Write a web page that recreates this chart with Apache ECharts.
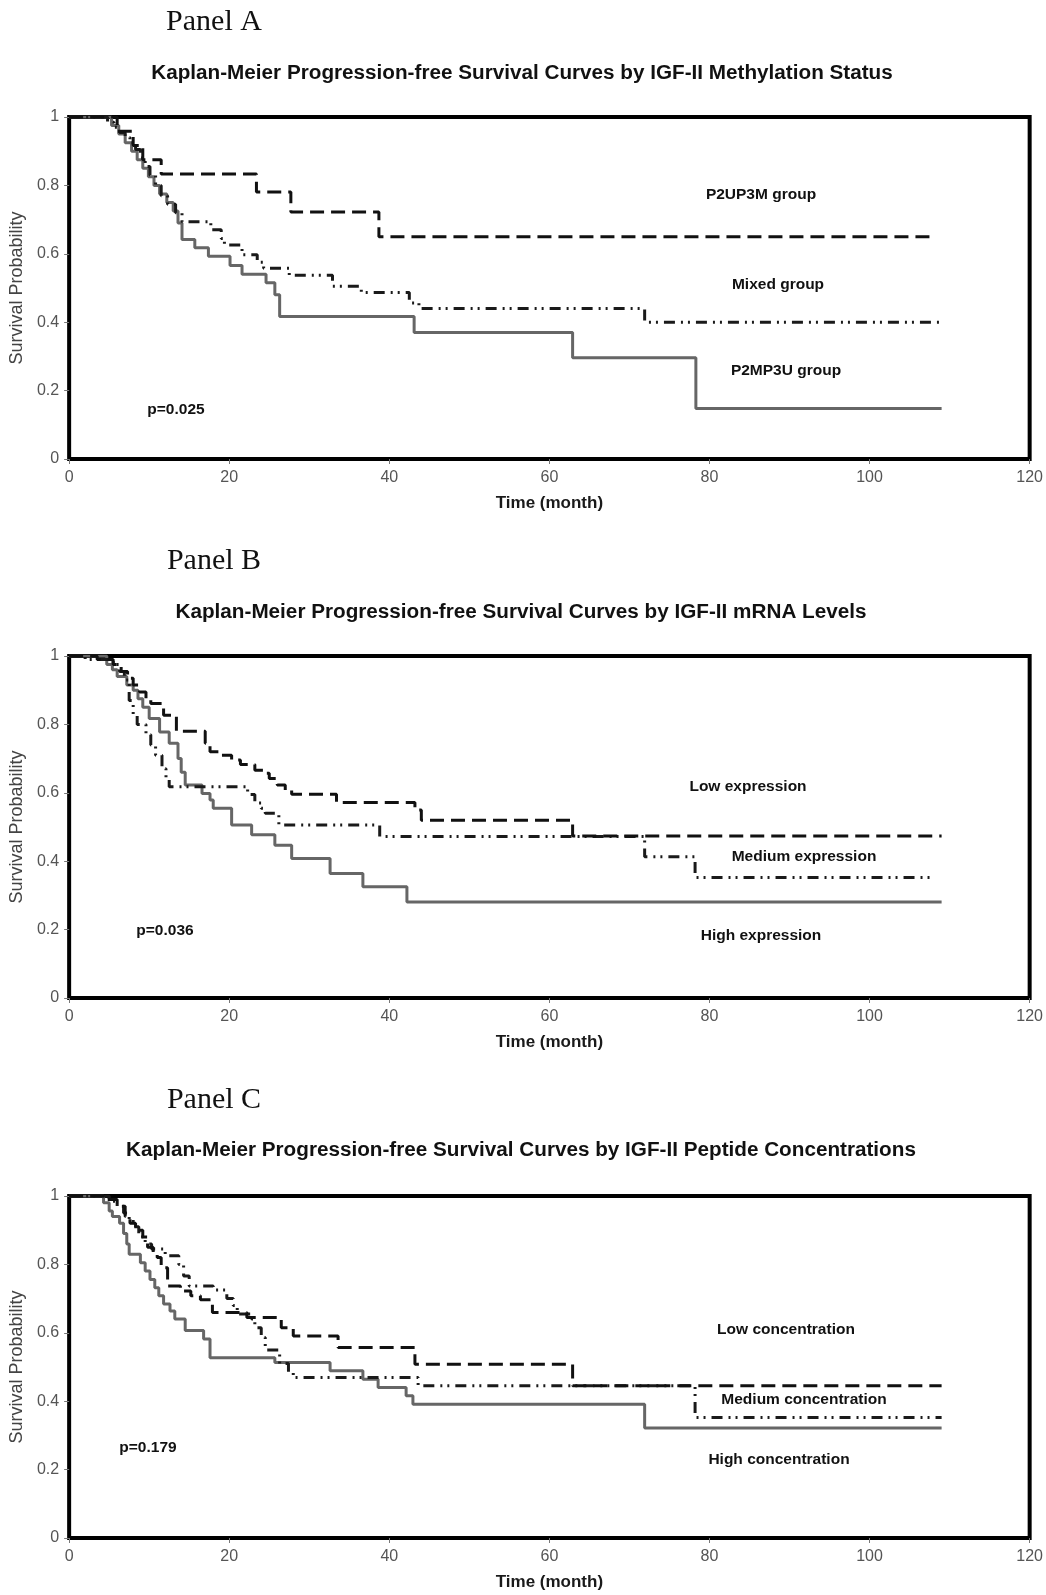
<!DOCTYPE html>
<html>
<head>
<meta charset="utf-8">
<title>Kaplan-Meier PFS curves</title>
<script src="https://cdn.jsdelivr.net/npm/echarts@6/dist/echarts.min.js"></script>
<style>
html,body{margin:0;padding:0;background:#fff;}
#main{width:1046px;height:1595px;}
</style>
</head>
<body>
<div id="main"></div>
<script>
// axis ticks
var xTicks = [0, 20, 40, 60, 80, 100, 120];
var yTicks = [0, 0.2, 0.4, 0.6, 0.8, 1];

// Panel A - methylation status
var aUpMT = [0, 6.0, 8.0, 9.2, 11.5, 23.4, 27.7, 38.7, 108.3];
var aUpMS = [1, 0.958, 0.917, 0.875, 0.833, 0.781, 0.722, 0.65, 0.65];
var aMixT = [0, 4.8, 5.6, 6.3, 7.0, 7.6, 8.3, 8.9, 9.5, 10.1, 10.8, 11.5, 12.3, 13.3, 14.1, 17.7, 19.0, 19.4, 21.6, 23.5, 24.3, 27.5, 32.9, 36.5, 42.5, 43.7, 71.9, 109];
var aMixS = [1, 0.985, 0.97, 0.955, 0.94, 0.925, 0.905, 0.88, 0.855, 0.83, 0.8, 0.77, 0.745, 0.72, 0.694, 0.67, 0.645, 0.626, 0.597, 0.575, 0.558, 0.537, 0.505, 0.487, 0.456, 0.44, 0.4, 0.4];
var aMpUT = [0, 5.3, 6.2, 7.0, 7.8, 8.5, 9.2, 9.9, 10.6, 11.3, 12.2, 13.0, 13.6, 14.1, 15.7, 17.4, 20.1, 21.6, 24.6, 25.7, 26.3, 43.1, 62.9, 78.3, 109];
var aMpUS = [1, 0.975, 0.95, 0.925, 0.9, 0.875, 0.85, 0.825, 0.8, 0.775, 0.75, 0.725, 0.69, 0.642, 0.618, 0.593, 0.566, 0.54, 0.515, 0.48, 0.417, 0.37, 0.296, 0.148, 0.148];

// Panel B - mRNA levels
var bLowT = [0, 3.5, 5.5, 6.5, 7.3, 8.0, 8.8, 9.6, 10.2, 11.8, 13.4, 17.0, 17.6, 19.0, 20.3, 21.4, 23.2, 24.3, 25.0, 26.0, 27.0, 27.8, 33.4, 43.2, 44.0, 62.9, 109];
var bLowS = [1, 0.99, 0.975, 0.955, 0.935, 0.915, 0.895, 0.875, 0.861, 0.827, 0.78, 0.745, 0.72, 0.71, 0.696, 0.683, 0.666, 0.657, 0.642, 0.623, 0.608, 0.596, 0.572, 0.55, 0.52, 0.474, 0.474];
var bMedT = [0, 2, 5.5, 6.3, 6.9, 7.5, 8.0, 8.5, 9.6, 10.2, 10.8, 11.6, 12.1, 12.5, 22.3, 23.2, 24.0, 24.5, 26.2, 38.8, 71.9, 78.2, 108];
var bMedS = [1, 0.99, 0.975, 0.955, 0.93, 0.87, 0.83, 0.8, 0.77, 0.74, 0.71, 0.67, 0.64, 0.618, 0.595, 0.57, 0.555, 0.54, 0.506, 0.472, 0.413, 0.352, 0.352];
var bHighT = [0, 4.7, 5.4, 6.0, 7.2, 8.0, 8.6, 9.2, 10.0, 11.3, 12.5, 13.6, 14.0, 14.5, 16.6, 17.6, 18.0, 20.3, 22.8, 25.7, 27.8, 32.6, 36.7, 42.2, 109];
var bHighS = [1, 0.975, 0.96, 0.94, 0.915, 0.9, 0.875, 0.85, 0.817, 0.778, 0.745, 0.7, 0.66, 0.623, 0.598, 0.579, 0.555, 0.506, 0.477, 0.447, 0.408, 0.364, 0.325, 0.281, 0.281];

// Panel C - peptide concentrations
var cLowT = [0, 4.5, 6.0, 7.0, 7.6, 8.3, 9.2, 9.8, 10.5, 11.0, 11.5, 12.3, 13.9, 15.2, 16.4, 17.9, 22.2, 26.5, 28.0, 33.6, 43.2, 62.9, 109];
var cLowS = [1, 0.99, 0.97, 0.94, 0.92, 0.9, 0.88, 0.85, 0.834, 0.82, 0.79, 0.737, 0.722, 0.708, 0.697, 0.659, 0.645, 0.615, 0.591, 0.557, 0.508, 0.445, 0.445];
var cMedT = [0, 5, 6, 6.8, 7.5, 8, 8.7, 9.5, 10.3, 12.0, 13.7, 14.3, 15.0, 18.0, 19.7, 20.5, 21.0, 22.8, 23.2, 24.0, 24.5, 26.3, 27.4, 28.0, 43.6, 78.2, 109];
var cMedS = [1, 0.985, 0.97, 0.95, 0.93, 0.91, 0.88, 0.86, 0.845, 0.825, 0.8, 0.766, 0.737, 0.725, 0.7, 0.68, 0.655, 0.64, 0.615, 0.586, 0.55, 0.51, 0.485, 0.469, 0.445, 0.352, 0.352];
var cHighT = [0, 4.3, 5.0, 5.4, 6.3, 6.8, 7.2, 7.5, 8.9, 9.5, 10.1, 10.7, 11.2, 11.8, 12.6, 13.2, 14.5, 16.8, 17.6, 25.7, 32.6, 36.7, 38.6, 42.1, 42.95, 71.9, 109];
var cHighS = [1, 0.98, 0.956, 0.94, 0.92, 0.89, 0.86, 0.83, 0.805, 0.781, 0.756, 0.732, 0.708, 0.684, 0.664, 0.64, 0.607, 0.582, 0.527, 0.513, 0.489, 0.464, 0.44, 0.416, 0.391, 0.322, 0.322];

var sansFont = '"Liberation Sans", Arial, sans-serif';
var serifFont = '"Liberation Serif", "Times New Roman", serif';

var gridTops = [117, 656, 1196];
var dashLine = {color: '#111', width: 3, type: [14, 7], cap: 'butt'};
var dotDashLine = {color: '#1a1a1a', width: 3, type: [11, 6, 2, 5, 2, 6], cap: 'butt'};
var solidLine = {color: '#666', width: 3, type: 'solid'};

function kmPoints(t, s) {
    var d = [];
    for (var i = 0; i < t.length; i++) {
        d.push([t[i], s[i]]);
    }
    return d;
}

function kmSeries(name, idx, t, s, style, z) {
    return {
        name: name,
        type: 'line',
        step: 'end',
        xAxisIndex: idx,
        yAxisIndex: idx,
        showSymbol: false,
        symbol: 'none',
        silent: true,
        z: z,
        lineStyle: style,
        data: kmPoints(t, s)
    };
}

function txt(str, x, y, font, color) {
    return {
        type: 'text',
        x: x,
        y: y,
        style: {
            text: str,
            font: font,
            fill: color || '#111',
            textAlign: 'center',
            textVerticalAlign: 'middle',
            align: 'center',
            verticalAlign: 'middle'
        }
    };
}

var grids = [], xAxes = [], yAxes = [];
for (var g = 0; g < 3; g++) {
    grids.push({
        left: 68, top: gridTops[g], width: 962, height: 342,
        show: true, borderColor: '#000', borderWidth: 4, backgroundColor: 'transparent'
    });
    xAxes.push({
        gridIndex: g, type: 'value', min: xTicks[0], max: xTicks[xTicks.length - 1], interval: 20,
        name: 'Time (month)', nameLocation: 'middle', nameGap: 36,
        nameTextStyle: {fontFamily: sansFont, fontSize: 17, fontWeight: 'bold', color: '#1a1a1a'},
        axisLine: {show: false},
        axisTick: {show: true, length: 5, lineStyle: {color: '#777', width: 1}},
        axisLabel: {margin: 11, fontFamily: sansFont, fontSize: 16, color: '#555'},
        splitLine: {show: false}
    });
    yAxes.push({
        gridIndex: g, type: 'value', min: yTicks[0], max: yTicks[yTicks.length - 1], interval: 0.2,
        name: 'Survival Probability', nameLocation: 'middle', nameGap: 41,
        nameTextStyle: {fontFamily: sansFont, fontSize: 18, color: '#444'},
        axisLine: {show: false},
        axisTick: {show: true, length: 5, lineStyle: {color: '#777', width: 1}},
        axisLabel: {margin: 10, fontFamily: sansFont, fontSize: 16, color: '#555'},
        splitLine: {show: false}
    });
}

var labelFont = 'bold 15.5px ' + sansFont;
var titleFont = 'bold 20.7px ' + sansFont;
var panelFont = '30px ' + serifFont;

var myChart = echarts.init(document.getElementById('main'), null, {renderer: 'canvas'});

option = {
    backgroundColor: '#fff',
    animation: false,
    grid: grids,
    xAxis: xAxes,
    yAxis: yAxes,
    series: [
        kmSeries('P2MP3U group', 0, aMpUT, aMpUS, solidLine, 2),
        kmSeries('Mixed group', 0, aMixT, aMixS, dotDashLine, 3),
        kmSeries('P2UP3M group', 0, aUpMT, aUpMS, dashLine, 4),
        kmSeries('High expression', 1, bHighT, bHighS, solidLine, 2),
        kmSeries('Medium expression', 1, bMedT, bMedS, dotDashLine, 3),
        kmSeries('Low expression', 1, bLowT, bLowS, dashLine, 4),
        kmSeries('High concentration', 2, cHighT, cHighS, solidLine, 2),
        kmSeries('Medium concentration', 2, cMedT, cMedS, dotDashLine, 3),
        kmSeries('Low concentration', 2, cLowT, cLowS, dashLine, 4)
    ],
    graphic: [
        txt('Panel A', 214, 22, panelFont, '#111'),
        txt('Kaplan-Meier Progression-free Survival Curves by IGF-II Methylation Status', 522, 73, titleFont),
        txt('P2UP3M group', 761, 195, labelFont),
        txt('Mixed group', 778, 285, labelFont),
        txt('P2MP3U group', 786, 371, labelFont),
        txt('p=0.025', 176, 410, labelFont),

        txt('Panel B', 214, 561, panelFont, '#111'),
        txt('Kaplan-Meier Progression-free Survival Curves by IGF-II mRNA Levels', 521, 612, titleFont),
        txt('Low expression', 748, 787, labelFont),
        txt('Medium expression', 804, 857, labelFont),
        txt('High expression', 761, 936, labelFont),
        txt('p=0.036', 165, 931, labelFont),

        txt('Panel C', 214, 1100, panelFont, '#111'),
        txt('Kaplan-Meier Progression-free Survival Curves by IGF-II Peptide Concentrations', 521, 1150, titleFont),
        txt('Low concentration', 786, 1330, labelFont),
        txt('Medium concentration', 804, 1400, labelFont),
        txt('High concentration', 779, 1460, labelFont),
        txt('p=0.179', 148, 1448, labelFont)
    ]
};
myChart.setOption(option, true);
</script>
</body>
</html>
